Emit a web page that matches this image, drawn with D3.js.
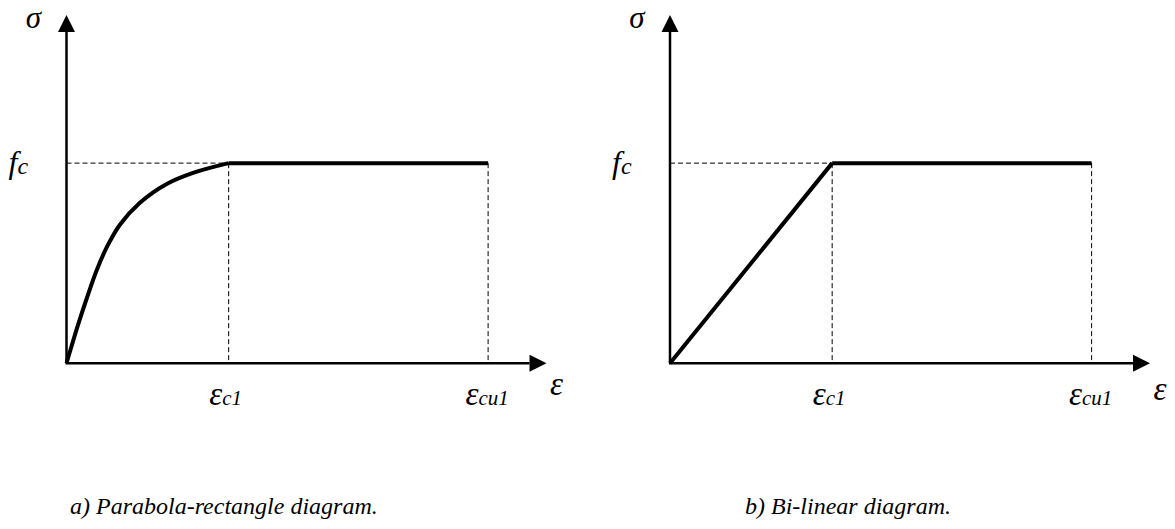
<!DOCTYPE html>
<html>
<head>
<meta charset="utf-8">
<script src="https://cdn.jsdelivr.net/npm/d3@7"></script>
<style>
  html, body { margin: 0; padding: 0; background: #fff; }
</style>
</head>
<body>
<svg id="chart" width="1175" height="529"></svg>
<script>
// Strain in units of eps_c1, stress in units of f_c
const parabolaStrain = [0, 0.031, 0.074, 0.124, 0.185, 0.247, 0.328, 0.451, 0.618, 0.785, 1];
const parabolaStress = [0, 0.085, 0.199, 0.3225, 0.4625, 0.5775, 0.691, 0.801, 0.896, 0.9525, 1];
const bilinearStrain = [0, 1];
const bilinearStress = [0, 1];
const epsC1 = 1;
const epsCu1 = 2.6;
const fc = 1;
const strainMax = 2.96;
const stressMax = 1.74;
const captions = ["a) Parabola-rectangle diagram.", "b) Bi-linear diagram."];

const FONT = "'Liberation Serif', 'Times New Roman', Tinos, 'DejaVu Serif', serif";
const svg = d3.select("#chart");

const addText = (sel, x, y, size) => sel.append("text")
  .attr("x", x).attr("y", y)
  .attr("font-family", FONT).attr("font-style", "italic")
  .attr("font-size", size).attr("fill", "#000");

const panels = [
  { x0: 66.5, strain: parabolaStrain, stress: parabolaStress, curve: d3.curveCatmullRom.alpha(0.5), caption: captions[0], capX: 70 },
  { x0: 670, strain: bilinearStrain, stress: bilinearStress, curve: d3.curveLinear, caption: captions[1], capX: 745 }
];

const axisY0 = 363.3;
const axisTop = 15;
const panelW = 480;

panels.forEach((p, i) => {
  const x = d3.scaleLinear().domain([0, strainMax]).range([p.x0, p.x0 + panelW]);
  const y = d3.scaleLinear().domain([0, stressMax]).range([axisY0, axisTop]);
  const g = svg.append("g");

  // dashed guides
  const guides = [
    [[0, fc], [epsC1, fc]],
    [[epsC1, fc], [epsC1, 0]],
    [[epsCu1, fc], [epsCu1, 0]]
  ];
  guides.forEach(seg => {
    g.append("line")
      .attr("x1", x(seg[0][0])).attr("y1", y(seg[0][1]))
      .attr("x2", x(seg[1][0])).attr("y2", y(seg[1][1]))
      .attr("stroke", "#000").attr("stroke-width", 1).attr("stroke-dasharray", "5,3");
  });

  // axes with arrowheads
  const arrowLen = 17, arrowHalf = 8.5;
  g.append("line")
    .attr("x1", x(0)).attr("y1", y(0))
    .attr("x2", x(0)).attr("y2", y(stressMax) + arrowLen)
    .attr("stroke", "#000").attr("stroke-width", 2.5);
  g.append("path")
    .attr("d", `M${x(0)},${y(stressMax)} L${x(0) - arrowHalf},${y(stressMax) + arrowLen} L${x(0) + arrowHalf},${y(stressMax) + arrowLen} Z`)
    .attr("fill", "#000");
  g.append("line")
    .attr("x1", x(0) - 1).attr("y1", y(0))
    .attr("x2", x(strainMax) - arrowLen).attr("y2", y(0))
    .attr("stroke", "#000").attr("stroke-width", 2.5);
  g.append("path")
    .attr("d", `M${x(strainMax)},${y(0)} L${x(strainMax) - arrowLen},${y(0) - arrowHalf} L${x(strainMax) - arrowLen},${y(0) + arrowHalf} Z`)
    .attr("fill", "#000");

  // stress-strain curve: rising branch + plateau
  const pts = p.strain.map((s, k) => [s, p.stress[k]]);
  const line = d3.line().x(d => x(d[0])).y(d => y(d[1])).curve(p.curve);
  g.append("path")
    .attr("d", line(pts))
    .attr("fill", "none").attr("stroke", "#000").attr("stroke-width", 4)
    .attr("stroke-linejoin", "round");
  g.append("path")
    .attr("d", d3.line().x(d => x(d[0])).y(d => y(d[1]))([[epsC1, fc], [epsCu1, fc]]))
    .attr("fill", "none").attr("stroke", "#000").attr("stroke-width", 4);

  // labels
  addText(g, x(0) - 33, 28, 31).attr("text-anchor", "middle").text("σ");
  const fl = addText(g, x(0) - 58, y(fc) + 10, 32);
  fl.append("tspan").text("f");
  fl.append("tspan").attr("font-size", 24).attr("dy", 1).text("c");

  const epsLabel = (xc, sub) => {
    const t = addText(g, xc, 405, 33).attr("text-anchor", "middle");
    t.append("tspan").text("ε");
    t.append("tspan").attr("font-size", 21).text(sub);
  };
  epsLabel(x(epsC1) - 3, "c1");
  epsLabel(x(epsCu1) - 1, "cu1");
  addText(g, x(strainMax) + 10, 395 + i * 5, 33).attr("text-anchor", "middle").text("ε");

  // caption
  addText(svg, p.capX, 514, 24).text(p.caption);
});
</script>
</body>
</html>
